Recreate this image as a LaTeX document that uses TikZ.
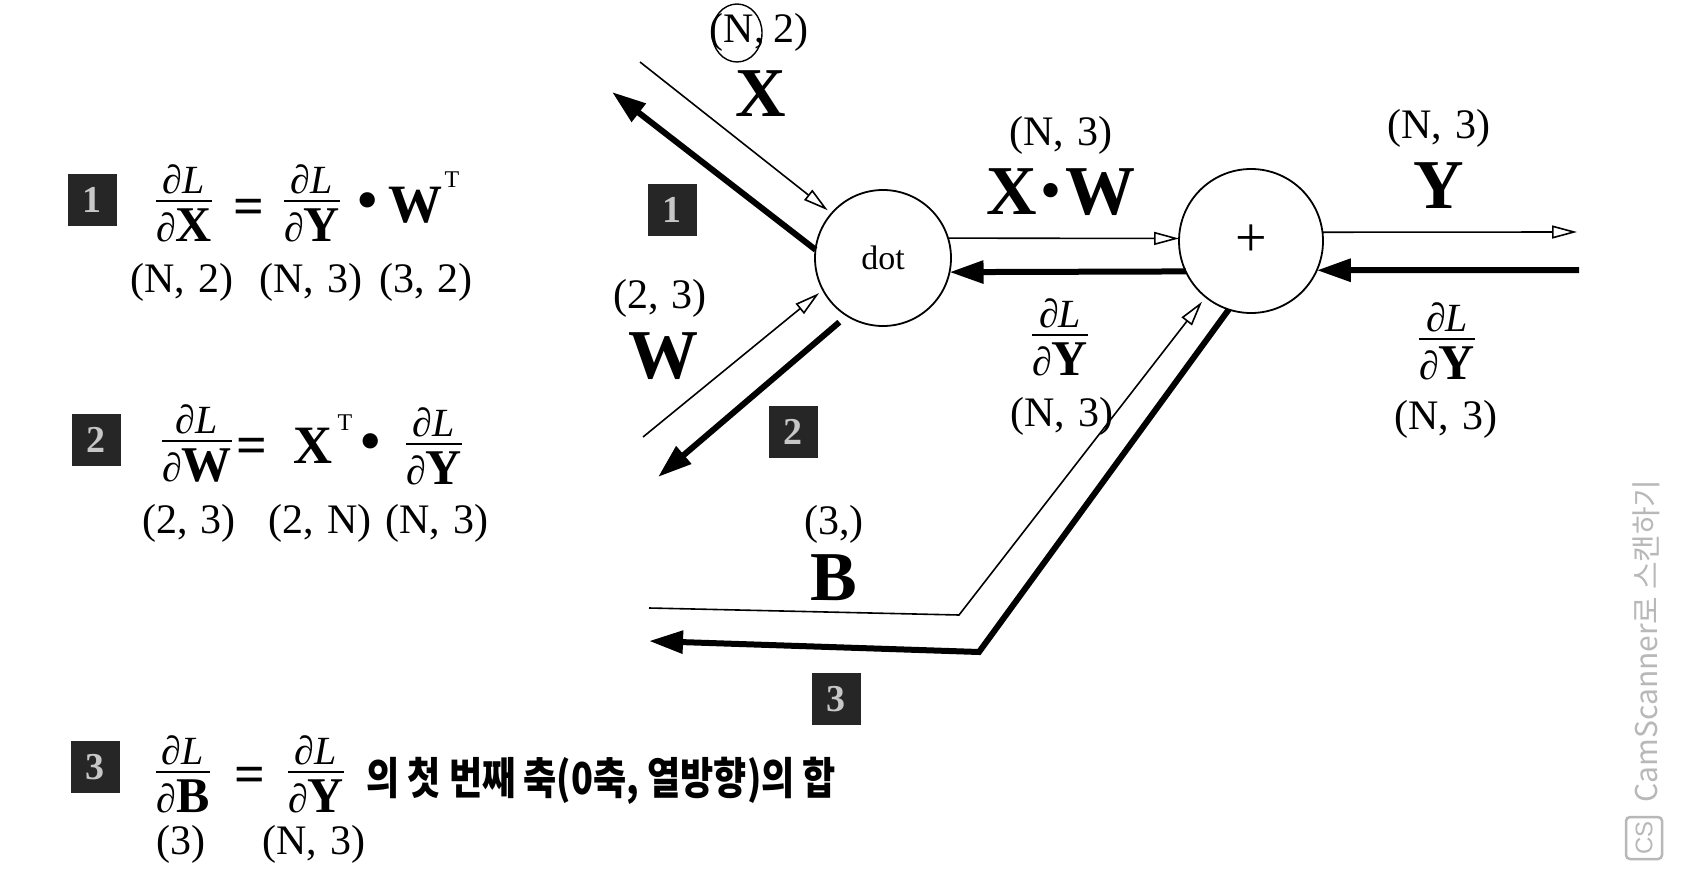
\documentclass[tikz,border=0pt]{standalone}
\usepackage{fontspec}
\setmainfont{Liberation Serif}
\newfontfamily\cjk{Noto Sans CJK KR}
\newfontfamily\wmfont{Liberation Sans}
\usetikzlibrary{arrows.meta}
\newcommand{\fs}[1]{\fontsize{#1}{#1}\selectfont}
\newcommand{\gp}{\hspace{0.32em}}
\newcommand{\pfrac}[1]{\vbox{\offinterlineskip\halign{\hfil##\hfil\cr \fs{40}∂\textit{L}\cr\noalign{\kern6pt\hrule height2.8pt\kern6pt}\fs{40}∂{\fs{50}\bfseries #1}\cr}}}
\tikzset{
  lbl/.style={inner sep=0pt, font=\fs{42}},
  big/.style={inner sep=0pt, font=\fs{70}\bfseries},
  mid/.style={inner sep=0pt, font=\fs{54}\bfseries},
  frc/.style={inner sep=0pt},
  eqs/.style={inner sep=0pt, anchor=base, font=\fs{54}\bfseries},
  bul/.style={inner sep=0pt, anchor=base, font=\fs{64}},
  sup/.style={inner sep=0pt, font=\fs{24}},
  numbox/.style={fill=black!85, minimum width=49pt, minimum height=52pt, inner sep=0pt, text=black!22, font=\fs{38}\bfseries},
  opnode/.style={circle, draw, line width=1.8pt, inner sep=0pt, outer sep=0pt},
  fwd/.style={line width=1.6pt, -{Triangle[open, length=25pt, width=13pt]}},
  bwd/.style={line width=6pt, line join=miter, -{Triangle[length=34pt, width=22pt]}},
}
\begin{document}
\begin{tikzpicture}[x=1pt,y=-1pt]
\useasboundingbox (0,0) rectangle (1696,896);
\fill[white] (0,0) rectangle (1696,896);

% ---------- equation 1
\node[numbox] (b1) at (92,200) {1};
\node[frc] (f1a) at (184,203) {\pfrac{X}};
\node[eqs] (e1) at (249,224) {=};
\node[frc] (f1b) at (312,203) {\pfrac{Y}};
\node[bul] (d1) at (368,221) {•};
\node[mid] (w1) at (415,205) {W};
\node[sup] (t1) at (452,180) {T};
\node[lbl] (l1a) at (182,282) {(N,\gp 2)};
\node[lbl] (l1b) at (311,282) {(N,\gp 3)};
\node[lbl] (l1c) at (426,282) {(3,\gp 2)};

% ---------- equation 2
\node[numbox] (b2) at (96,440) {2};
\node[frc] (f2a) at (197,443) {\pfrac{W}};
\node[eqs] (e2) at (252,463) {=};
\node[mid] (x2) at (313,446) {X};
\node[sup] (t2) at (345,423) {T};
\node[bul] (d2) at (371,462) {•};
\node[frc] (f2b) at (434,446) {\pfrac{Y}};
\node[lbl] (l2a) at (189,523) {(2,\gp 3)};
\node[lbl] (l2b) at (320,523) {(2,\gp N)};
\node[lbl] (l2c) at (437,523) {(N,\gp 3)};

% ---------- equation 3
\node[numbox] (b3) at (95,767) {3};
\node[frc] (f3a) at (183,774) {\pfrac{B}};
\node[eqs] (e3) at (250,792) {=};
\node[frc] (f3b) at (316,774) {\pfrac{Y}};
\node[inner sep=0pt, anchor=west, font=\cjk\bfseries\fs{44}] (kor) at (366,781) {\scalebox{0.82}[1]{의 첫 번째 축(0축, 열방향)의 합}};
\node[lbl] (l3a) at (181,844) {(3)};
\node[lbl] (l3b) at (314,844) {(N,\gp 3)};

% ---------- graph nodes
\node[opnode, minimum size=136pt, font=\fs{34}] (dot) at (883,258) {dot};
\node[opnode, minimum size=144pt, font=\fs{56}] (plus) at (1251,241) {+};

% labels
\node[lbl] (lN2) at (759,32) {(N,\hspace{0.2em}2)};
\draw[line width=1.4pt] (737,33) ellipse [x radius=25pt, y radius=29pt];
\node[big] (X) at (761,94) {X};
\node[numbox] (r1) at (672,210) {1};
\node[lbl] (l23) at (660,298) {(2,\gp 3)};
\node[big] (W) at (663,356) {W};
\node[numbox] (r2) at (793,432) {2};
\node[lbl] (lXW) at (1061,135) {(N,\gp 3)};
\node[big] (XW) at (1061,192) {X\hspace{4pt}{\fs{60}\mdseries\raisebox{4pt}{•}}\hspace{4pt}W};
\node[frc] (fm) at (1060,337) {\pfrac{Y}};
\node[lbl] (lfm) at (1062,416) {(N,\gp 3)};
\node[lbl] (lY) at (1439,128) {(N,\gp 3)};
\node[big] (Y) at (1439,186) {Y};
\node[frc] (fr) at (1447,341) {\pfrac{Y}};
\node[lbl] (lfr) at (1446,419) {(N,\gp 3)};
\node[lbl] (lB) at (834,524) {(3,)};
\node[big] (B) at (834,578) {B};
\node[numbox] (r3) at (836,699) {3};

% free ends
\coordinate (xin) at (640,62);
\coordinate (xout) at (612,92);
\coordinate (win) at (643,437);
\coordinate (wout) at (658,477);
\coordinate (yend) at (1577,232);
\coordinate (ystart) at (1579,270);
\coordinate (bin) at (649,608);
\coordinate (bc1) at (959,615);
\coordinate (bc2) at (979,652);
\coordinate (bout) at (649,641);

% connectors
\draw[fwd, shorten >=5pt] (xin) -- (dot.139);
\draw[bwd] (dot.173) -- (xout);
\draw[fwd, shorten >=5pt] (win) -- (dot.208);
\draw[bwd, shorten <=10pt] (dot.238) -- (wout);
\draw[fwd] (dot.17) -- (plus.178);
\draw[bwd] (plus.205) -- (dot.-12);
\draw[fwd] (plus.7) -- (yend);
\draw[bwd] (ystart) -- (plus.-24);
\draw[fwd, shorten >=6pt] (bin) -- (bc1) -- (plus.231);
\draw[bwd] (plus.252) -- (bc2) -- (bout);

% watermark
\node[inner sep=0pt, rotate=90, text=black!28, font=\cjk\fs{30}] (wm) at (1646,641) {CamScanner로 스캔하기};
\node[rotate=90, draw=black!28, line width=2.5pt, rounded corners=4pt, minimum width=42pt, minimum height=36pt, inner sep=0pt, text=black!28, font=\wmfont\fs{24}] (cs) at (1644,838) {CS};
\end{tikzpicture}
\end{document}
